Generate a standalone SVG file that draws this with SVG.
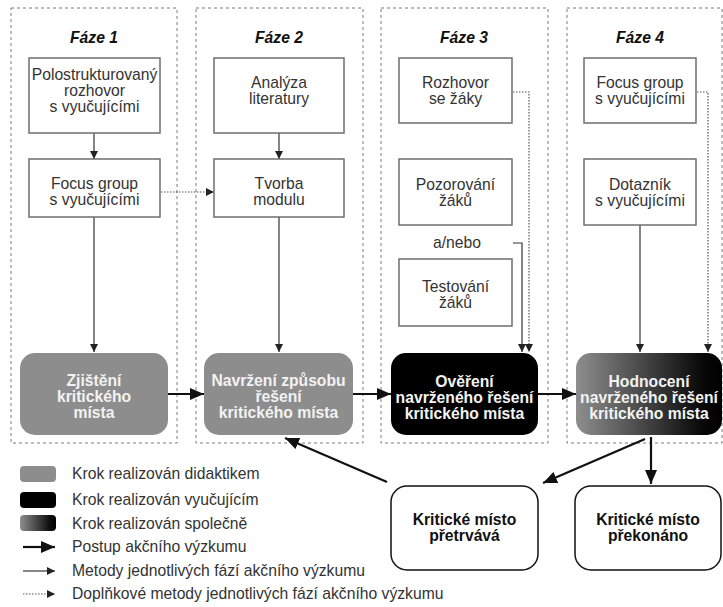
<svg xmlns="http://www.w3.org/2000/svg" width="723" height="607" viewBox="0 0 723 607">
<defs>
<style>
text{font-family:"Liberation Sans",Arial,sans-serif;font-size:15.7px;text-anchor:middle;fill:#333}
.ph{fill:none;stroke:#7a7a7a;stroke-width:1;stroke-dasharray:3,3}
.box{fill:#fff;stroke:#6e6e6e;stroke-width:1.5}
.title{font-weight:bold;font-style:italic;fill:#111}
.w{font-weight:bold;fill:#f2f2f2}
.k{font-weight:bold;fill:#111}
.lg{text-anchor:start}
.thin{stroke:#333;stroke-width:1.2;fill:none;marker-end:url(#ah)}
.dot{stroke:#555;stroke-width:1.2;fill:none;stroke-dasharray:1.5,1.5;marker-end:url(#ah)}
.thick{stroke:#111;stroke-width:2.2;fill:none;marker-end:url(#ahb)}
</style>
<marker id="ah" markerUnits="userSpaceOnUse" markerWidth="8" markerHeight="8" refX="8" refY="4" orient="auto"><path d="M0,0 L8,4 L0,8 z" fill="#222"/></marker>
<marker id="ahb" markerUnits="userSpaceOnUse" markerWidth="14" markerHeight="12" refX="14" refY="6" orient="auto"><path d="M0,0 L14,6 L0,12 z" fill="#111"/></marker>
<linearGradient id="gr" x1="0" y1="0" x2="1" y2="0"><stop offset="0" stop-color="#8e8e8e"/><stop offset="0.85" stop-color="#0a0a0a"/><stop offset="1" stop-color="#000"/></linearGradient>
</defs>
<rect width="723" height="607" fill="#fff"/>
<g id="phases">
<rect class="ph" x="11" y="8" width="166" height="435"/>
<rect class="ph" x="196" y="8" width="167" height="435"/>
<rect class="ph" x="381" y="8" width="167" height="435"/>
<rect class="ph" x="567" y="8" width="155" height="435"/>
<text class="title" x="94" y="43">Fáze 1</text>
<text class="title" x="279" y="43">Fáze 2</text>
<text class="title" x="464" y="43">Fáze 3</text>
<text class="title" x="640" y="43">Fáze 4</text>
</g>
<g id="connectors">
<line class="thin" x1="94" y1="133" x2="94" y2="159"/>
<line class="thin" x1="94" y1="217" x2="94" y2="352"/>
<line class="thin" x1="279" y1="133" x2="279" y2="159"/>
<line class="thin" x1="279" y1="217" x2="279" y2="352"/>
<line class="dot" x1="161" y1="192" x2="214" y2="192"/>
<path class="dot" d="M513,92 H529 V352"/>
<path class="thin" d="M513,243 H522 V352"/>
<line class="thin" x1="640" y1="225" x2="640" y2="352"/>
<path class="dot" d="M697,92 H708 V352"/>
<line class="thick" x1="168" y1="394" x2="204" y2="394"/>
<line class="thick" x1="353" y1="394" x2="391" y2="394"/>
<line class="thick" x1="538" y1="394" x2="576" y2="394"/>
<line class="thick" x1="645" y1="439" x2="543" y2="483"/>
<line class="thick" x1="651" y1="437" x2="651" y2="484"/>
<line class="thick" x1="387" y1="482" x2="285" y2="438"/>
</g>
<g id="n1a"><rect class="box" x="29" y="58" width="131" height="75"/><text x="94.5" y="80">Polostrukturovaný</text><text x="94.5" y="96">rozhovor</text><text x="94.5" y="112">s vyučujícími</text></g>
<g id="n1b"><rect class="box" x="29" y="159" width="131" height="58"/><text x="94.5" y="189">Focus group</text><text x="94.5" y="205">s vyučujícími</text></g>
<g id="n2a"><rect class="box" x="214" y="58" width="130" height="75"/><text x="279" y="88">Analýza</text><text x="279" y="104">literatury</text></g>
<g id="n2b"><rect class="box" x="214" y="159" width="130" height="58"/><text x="279" y="189">Tvorba</text><text x="279" y="205">modulu</text></g>
<g id="n3a"><rect class="box" x="399" y="58" width="113" height="65"/><text x="455.5" y="88">Rozhovor</text><text x="455.5" y="104">se žáky</text></g>
<g id="n3b"><rect class="box" x="399" y="159" width="113" height="66"/><text x="455.5" y="190">Pozorování</text><text x="455.5" y="206">žáků</text></g>
<g id="anebo"><text x="457" y="248">a/nebo</text></g>
<g id="n3c"><rect class="box" x="399" y="259" width="113" height="67"/><text x="455.5" y="292">Testování</text><text x="455.5" y="308">žáků</text></g>
<g id="n4a"><rect class="box" x="584" y="58" width="112" height="65"/><text x="640" y="88">Focus group</text><text x="640" y="104">s vyučujícími</text></g>
<g id="n4b"><rect class="box" x="584" y="159" width="112" height="66"/><text x="640" y="190">Dotazník</text><text x="640" y="206">s vyučujícími</text></g>
<g id="s1"><rect x="20" y="353" width="148" height="82" rx="15" fill="#8d8d8d"/><text class="w" x="94" y="386">Zjištění</text><text class="w" x="94" y="402">kritického</text><text class="w" x="94" y="418">místa</text></g>
<g id="s2"><rect x="204" y="353" width="149" height="82" rx="15" fill="#8d8d8d"/><text class="w" x="278.5" y="386">Navržení způsobu</text><text class="w" x="278.5" y="402">řešení</text><text class="w" x="278.5" y="418">kritického místa</text></g>
<g id="s3"><rect x="391" y="353" width="147" height="82" rx="15" fill="#000"/><text class="w" x="464.5" y="387">Ověření</text><text class="w" x="464.5" y="403">navrženého řešení</text><text class="w" x="464.5" y="419">kritického místa</text></g>
<g id="s4"><rect x="576" y="353" width="146" height="82" rx="15" fill="url(#gr)"/><text class="w" x="649" y="387">Hodnocení</text><text class="w" x="649" y="403">navrženého řešení</text><text class="w" x="649" y="419">kritického místa</text></g>
<g id="r1"><rect x="391" y="486" width="147" height="84" rx="16" fill="#fff" stroke="#111" stroke-width="1.5"/><text class="k" x="464.5" y="525">Kritické místo</text><text class="k" x="464.5" y="541">přetrvává</text></g>
<g id="r2"><rect x="575" y="486" width="146" height="84" rx="16" fill="#fff" stroke="#111" stroke-width="1.5"/><text class="k" x="648" y="525">Kritické místo</text><text class="k" x="648" y="541">překonáno</text></g>
<g id="legend">
<rect x="20" y="466" width="36" height="16" rx="4" fill="#8d8d8d"/>
<rect x="20" y="492" width="36" height="16" rx="4" fill="#000"/>
<rect x="20" y="515" width="36" height="16" rx="4" fill="url(#gr)"/>
<line class="thick" x1="23" y1="547" x2="55" y2="547"/>
<line class="thin" x1="23" y1="571" x2="55" y2="571"/>
<line class="dot" x1="23" y1="594" x2="55" y2="594"/>
<text class="lg" x="72" y="479">Krok realizován didaktikem</text>
<text class="lg" x="72" y="505">Krok realizován vyučujícím</text>
<text class="lg" x="72" y="529">Krok realizován společně</text>
<text class="lg" x="72" y="552">Postup akčního výzkumu</text>
<text class="lg" x="72" y="576">Metody jednotlivých fází akčního výzkumu</text>
<text class="lg" x="72" y="599">Doplňkové metody jednotlivých fází akčního výzkumu</text>
</g>
</svg>
